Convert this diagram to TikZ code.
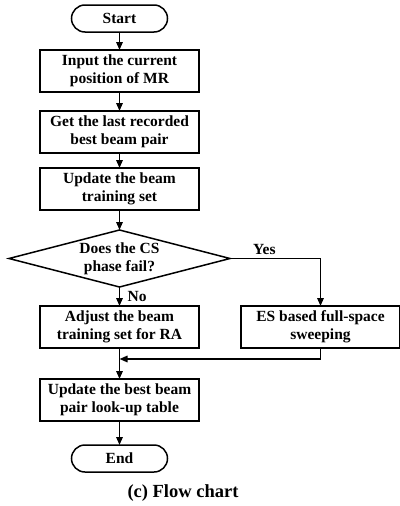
\documentclass[tikz,border=0pt]{standalone}
\usepackage{fontspec}
\setmainfont{Liberation Serif}
\usetikzlibrary{arrows.meta, positioning, shapes.geometric}

\tikzset{
  proc/.style={draw, line width=1.5pt, outer sep=0pt, minimum width=159pt, minimum height=42pt,
    align=center, inner sep=1pt, font=\fontsize{15.5}{18}\selectfont\bfseries},
  term/.style={draw, line width=1.5pt, outer sep=0pt, rounded corners=13.5pt, minimum width=96pt,
    minimum height=27pt, font=\fontsize{15.5}{18}\selectfont\bfseries},
  flow/.style={-{Triangle[length=8pt, width=6.5pt]}, line width=1.5pt},
  lbl/.style={font=\fontsize{15.5}{18}\selectfont\bfseries}
}

\begin{document}
\begin{tikzpicture}
  \useasboundingbox (0,0) rectangle (399pt,-506pt);

  \node[term] (start) at (119.5pt,-18.5pt) {Start};
  \node[proc, below=18pt of start] (inpos) {Input the current \\ position of MR};
  \node[proc, below=19pt of inpos] (getbest) {Get the last recorded \\ best beam pair};
  \node[proc, below=15pt of getbest] (updset) {Update the beam \\ training set};
  \node[draw, diamond, line width=1.5pt, outer sep=0pt, minimum width=221pt, minimum height=57pt,
    inner sep=0pt, below=20pt of updset,
    label={[lbl, align=center]center:Does the CS \\ phase fail?}] (csfail) {};
  \node[proc, below=19pt of csfail] (adjset) {Adjust the beam \\ training set for RA};
  \node[proc, right=42pt of adjset] (essweep) {ES based full-space \\ sweeping};
  \node[proc, below=31pt of adjset] (updtab) {Update the best beam \\ pair look-up table};
  \node[term, below=24pt of updtab] (stop) {End};
  \node[font=\fontsize{18.5}{20}\selectfont\bfseries] (caption) at (183pt,-493pt) {(c) Flow chart};

  \coordinate (join) at ([yshift=-11pt]adjset.south);

  \draw[flow] (start) -- (inpos);
  \draw[flow] (inpos) -- (getbest);
  \draw[flow] (getbest) -- (updset);
  \draw[flow] (updset) -- (csfail);
  \draw[flow] (csfail.east) -| node[lbl, above, pos=0.19] {Yes} (essweep.north);
  \draw[flow] (csfail) -- node[lbl, right, xshift=4pt] {No} (adjset);
  \draw[flow] (essweep.south) |- (join);
  \draw[flow] (adjset) -- (updtab);
  \draw[flow] (updtab) -- (stop);
\end{tikzpicture}
\end{document}
